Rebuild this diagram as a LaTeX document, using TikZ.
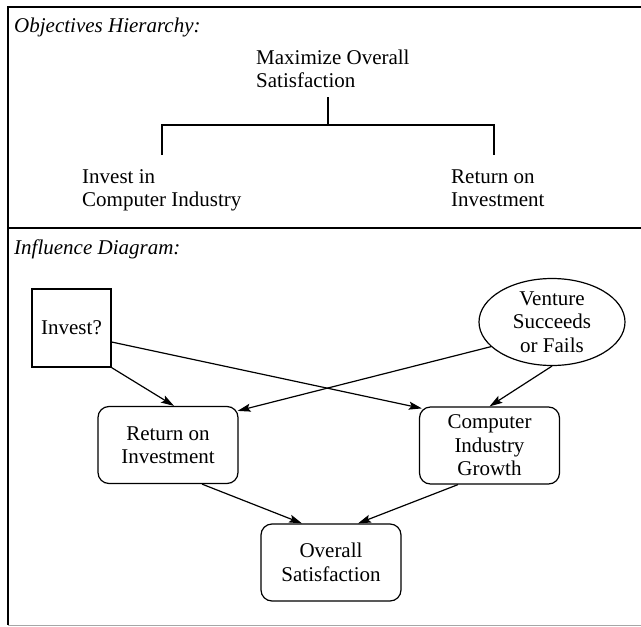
\documentclass[tikz,border=0pt]{standalone}
\usepackage{fontspec}
\setmainfont{Liberation Serif}
\usetikzlibrary{arrows.meta,shapes.geometric}
\begin{document}
\begin{tikzpicture}[x=1pt,y=-1pt,
  every node/.style={font=\fontsize{21}{23.5}\selectfont, inner sep=0pt},
  frame/.style={line width=1.2pt},
  heading/.style={anchor=west, font=\fontsize{21}{23.5}\selectfont\itshape},
  objective/.style={align=left, anchor=west},
  bracket/.style={line width=1.2pt},
  decision/.style={draw, line width=1.2pt, minimum width=79pt, minimum height=78pt},
  chance/.style={draw, ellipse, line width=1.2pt, align=center, minimum width=146pt, minimum height=87pt},
  valuebox/.style={draw, line width=1.2pt, rounded corners=11pt, align=center, minimum width=140pt, minimum height=77pt},
  influence/.style={line width=1.2pt, -{Stealth[length=13pt,width=8pt,inset=2.5pt]}}]
\useasboundingbox (0,0) rectangle (641,627);

% outer frame and section divider
\draw[frame] (641,7) -- (8,7) -- (8,625);
\draw[frame] (8,228) -- (641,228);
\draw[line width=0.6pt, black!35] (8,625) -- (641,625);

% section headings
\node[heading] (objhead) at (14,27) {Objectives Hierarchy:};
\node[heading] (infhead) at (14,249) {Influence Diagram:};

% objectives hierarchy
\node[objective] (maxsat) at (256,69) {Maximize Overall\\Satisfaction};
\node[objective] (invobj) at (82,190.5) {Invest in\\Computer Industry};
\node[objective] (roiobj) at (451,188) {Return on\\Investment};

\coordinate (stem) at (328,97);
\coordinate (join) at (328,125);
\coordinate (leftdrop) at (162,155);
\coordinate (rightdrop) at (494,155);
\draw[bracket] (stem) -- (join);
\draw[bracket] (leftdrop) |- (join) -| (rightdrop);

% influence diagram
\node[decision] (inv) at (71.5,328) {Invest?};
\node[chance] (ven) at (552,322) {Venture\\Succeeds\\or Fails};
\node[valuebox] (roi) at (168,445) {Return on\\Investment};
\node[valuebox] (cig) at (489.5,445.5) {Computer\\Industry\\Growth};
\node[valuebox] (ovr) at (331,562.5) {Overall\\Satisfaction};

\draw[influence] (inv.south east) -- ([xshift=6pt]roi.north);
\draw[influence] ([yshift=-14pt]inv.east) -- ([xshift=3pt,yshift=-2pt]cig.north west);
\draw[influence] (ven.202) -- ([xshift=-1pt,yshift=-5pt]roi.north east);
\draw[influence] (ven.south) -- (cig.north);
\draw[influence] ([xshift=34pt]roi.south) -- ([xshift=-29pt]ovr.north);
\draw[influence] ([xshift=-31.5pt]cig.south) -- ([xshift=27pt]ovr.north);
\end{tikzpicture}
\end{document}
